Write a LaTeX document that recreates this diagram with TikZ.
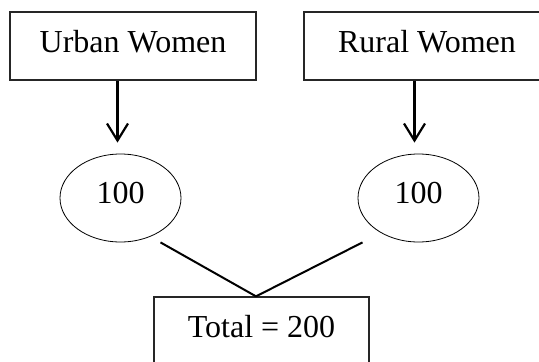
\documentclass[tikz,border=0pt]{standalone}
\usepackage{fontspec}
\setmainfont{Liberation Serif}
\usetikzlibrary{shapes}
\usetikzlibrary {arrows.meta}
\tikzset{kasten/.style = {
    shape = rectangle, draw = black!85, line width = 1.3pt,
    minimum width = 246pt, minimum height = 68pt, inner sep = 0pt,
    text height = 22pt, text depth = 10pt,
    font = \fontsize{32}{38}\selectfont
}}
\tikzset{zahl/.style = {
    shape = ellipse, draw = black, line width = 0.8pt,
    minimum width = 121pt, minimum height = 88pt, inner sep = 0pt,
    text height = 20pt, text depth = 10pt,
    font = \fontsize{32}{38}\selectfont
}}
\tikzset{pfeil/.style = {
    line width = 2.2pt, -{Straight Barb[length=17pt, width=21pt]},
    shorten > = 11pt
}}
\begin{document}
\begin{tikzpicture}[x=1pt, y=-1pt]
  \useasboundingbox (0,0) rectangle (539,362);
  \node (urban) at (133,46) [kasten] {Urban Women};
  \node (rural) at (427,46) [kasten] {Rural Women};
  \node (u100) at (120.5,198) [zahl] {100};
  \node (r100) at (418.5,198) [zahl] {100};
  \node (total) at (261.5,331) [kasten, minimum width = 215pt] {Total = 200};
  \draw[pfeil] ([xshift=-3pt]urban.south -| u100.north) -- ([xshift=-3pt]u100.north);
  \draw[pfeil] ([xshift=-4pt]rural.south -| r100.north) -- ([xshift=-4pt]r100.north);
  \draw[line width = 2pt] ([xshift=40pt]u100.south) -- ([xshift=-5.5pt]total.north);
  \draw[line width = 2pt] ([xshift=-56pt]r100.south) -- ([xshift=-5.5pt]total.north);
\end{tikzpicture}
\end{document}
